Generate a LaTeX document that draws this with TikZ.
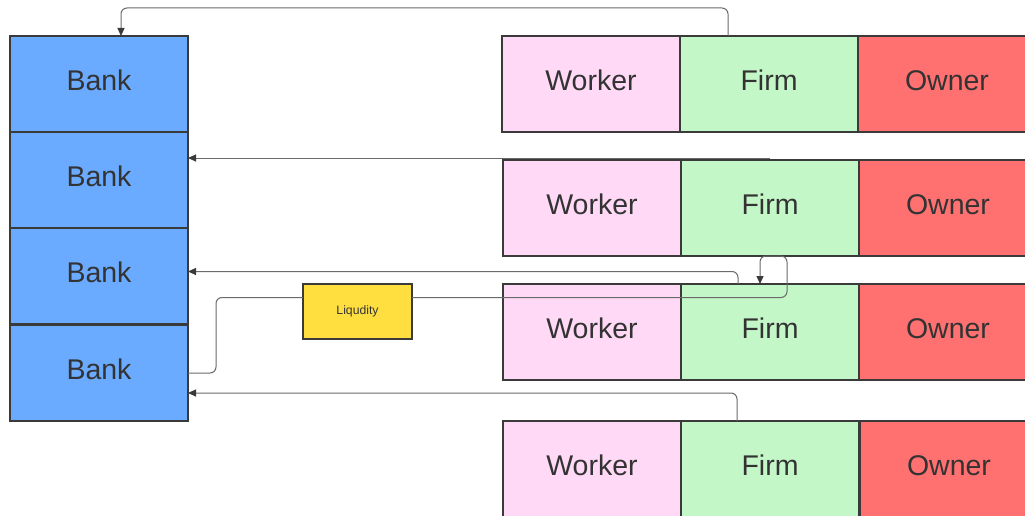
\documentclass[tikz,border=0pt]{standalone}
\usepackage{fontspec}
\setmainfont{Liberation Sans}
\usetikzlibrary{arrows.meta}
\definecolor{bankblue}{HTML}{6AAAFF}
\definecolor{workerpink}{HTML}{FFD9F5}
\definecolor{firmgreen}{HTML}{C3F7C8}
\definecolor{ownerred}{HTML}{FF7171}
\definecolor{liqyellow}{HTML}{FFDF40}
\definecolor{edge}{HTML}{3A3A3A}
\definecolor{wire}{HTML}{6A6A6A}
\definecolor{txt}{HTML}{333333}
\tikzset{
  cell/.style={draw=edge, line width=1.3pt, minimum width=178pt, minimum height=96pt,
    anchor=north west, inner sep=0pt, outer sep=0pt, text=txt,
    text height=20.5pt, text depth=8pt,
    font=\fontsize{28.5}{30}\selectfont},
  bank/.style={cell, fill=bankblue},
  worker/.style={cell, fill=workerpink},
  firm/.style={cell, fill=firmgreen},
  owner/.style={cell, fill=ownerred},
  liqbox/.style={draw=edge, line width=1.3pt, fill=liqyellow, minimum width=109pt,
    minimum height=55pt, anchor=north west, inner sep=0pt, outer sep=0pt, text=txt,
    font=\fontsize{12.2}{14}\selectfont},
  conn/.style={draw=wire, line width=1pt, rounded corners=6pt},
  tip/.style={-{Triangle[length=8pt,width=7pt,fill=edge,color=edge]}}
}
\begin{document}
\begin{tikzpicture}[x=1pt,y=-1pt]
\useasboundingbox (0,0) rectangle (1025,516);
\clip (0,0) rectangle (1025,516);
\fill[white] (0,0) rectangle (1025,516);

% bank column
\node[bank] (b1) at (10,36) {Bank};
\node[bank] (b2) at (10,132) {Bank};
\node[bank] (b3) at (10,228) {Bank};
\node[bank] (b4) at (10,325) {Bank};

% worker / firm / owner rows
\node[worker] (w1) at (502,36) {Worker};
\node[firm]   (f1) at (680,36) {Firm};
\node[owner]  (o1) at (858,36) {Owner};

\node[worker] (w2) at (503,160) {Worker};
\node[firm]   (f2) at (681,160) {Firm};
\node[owner]  (o2) at (859,160) {Owner};

\node[worker] (w3) at (503,284) {Worker};
\node[firm]   (f3) at (681,284) {Firm};
\node[owner]  (o3) at (859,284) {Owner};

\node[worker] (w4) at (503,421) {Worker};
\node[firm]   (f4) at (681,421) {Firm};
\node[owner]  (o4) at (860,421) {Owner};

% liquidity box
\node[liqbox] (liq) at (303,284) {Liqudity};

% bank 4 -> liquidity -> firm 3
\draw[conn] (b4.east) -- ++(28,0) |- ([yshift=14pt]liq.west);
\draw[conn,tip] ([yshift=14pt]liq.east) -| ([xshift=106pt]f2.south west)
  -| ([xshift=79pt]f3.north west);

% firm -> bank flows
\draw[conn,tip] ([xshift=48pt]f1.north west) -- ++(0,-28) -| ([xshift=111pt]b1.north west);
\coordinate (s2) at (770,158);
\draw[conn,tip] (s2) -- (s2 -| b2.east);
\draw[conn,tip] ([xshift=57pt]f3.north west) |- ([yshift=4.5pt]b3.east);
\draw[conn,tip] ([xshift=56pt]f4.north west) |- ([yshift=-20pt]b4.east);
\end{tikzpicture}
\end{document}
